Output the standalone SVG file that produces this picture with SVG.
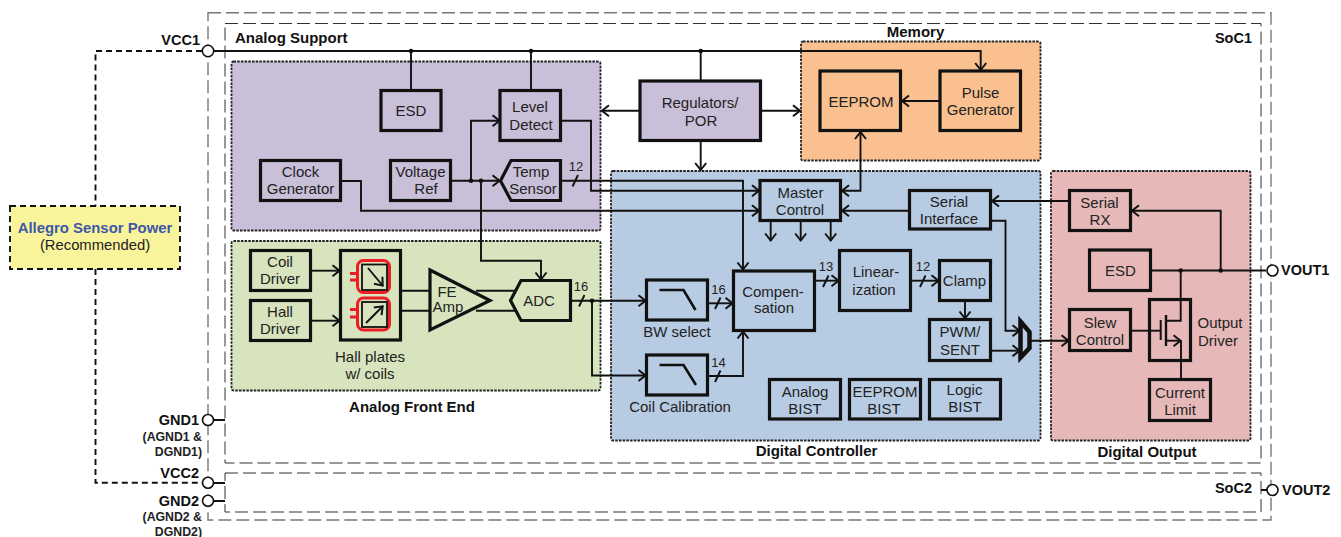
<svg xmlns="http://www.w3.org/2000/svg" width="1341" height="537" viewBox="0 0 1341 537">
<style>
text{font-family:"Liberation Sans",Arial,sans-serif;font-size:15px;fill:#222;text-anchor:middle}
.b{font-weight:bold;font-size:15px;fill:#111}
.t{font-weight:bold;font-size:14.500px;fill:#111}
.s{font-weight:bold;font-size:12.300px;text-anchor:end;fill:#222}
.e{text-anchor:end}.l{text-anchor:start}
.n{font-size:13px}
.bd{fill:none;stroke:#333;stroke-width:1;stroke-dasharray:13 5}
.bo{fill:none;stroke:#777;stroke-width:1.4;stroke-dasharray:13 5}
.p{stroke:#222;stroke-width:1.8;stroke-dasharray:2.5 1.2}
.x{stroke:#111;stroke-width:3.2;stroke-linejoin:miter}
.c{fill:none;stroke:#111;stroke-width:1.9;stroke-linejoin:miter}
.a{marker-end:url(#h)}
.k{marker-start:url(#hs)}
.d{fill:none;stroke:#111;stroke-width:1.9;stroke-dasharray:6 4}
.pin{fill:#fff;stroke:#111;stroke-width:1.6}
.dot{fill:#111;stroke:none}
.pu{fill:#c9bfd9}.gr{fill:#d7e4bd}.or{fill:#fac090}.bl{fill:#b7cbe3}.re{fill:#e6b9b8}
.rp{fill:none;stroke:#ee1c25;stroke-width:3}
</style>
<defs>
<marker id="h" markerUnits="userSpaceOnUse" markerWidth="12" markerHeight="14" refX="9.500" refY="6" orient="auto" overflow="visible"><path d="M2,0.500 L9,6 L2,11.500" fill="none" stroke="#111" stroke-width="2"/></marker>
<marker id="hs" markerUnits="userSpaceOnUse" markerWidth="12" markerHeight="14" refX="0.500" refY="6" orient="auto" overflow="visible"><path d="M8,0.500 L1,6 L8,11.500" fill="none" stroke="#111" stroke-width="2"/></marker>
</defs>
<rect width="1341" height="537" fill="#fff"/>

<g id="boundaries">
<rect class="bo" x="208" y="12.700" width="1063" height="507.300"/>
<rect class="bd" x="225" y="23.500" width="1036" height="439.500"/>
<rect class="bd" x="225" y="473" width="1036" height="39"/>
</g>

<g id="panels">
<rect id="panel-analog-support" class="p pu" x="231.500" y="61.500" width="369" height="169" rx="2"/>
<rect id="panel-afe" class="p gr" x="231.500" y="241" width="369" height="149.500" rx="2"/>
<rect id="panel-memory" class="p or" x="801" y="41.500" width="239.500" height="119" rx="2"/>
<rect id="panel-digital-controller" class="p bl" x="611" y="171" width="429.500" height="269.500" rx="2"/>
<rect id="panel-digital-output" class="p re" x="1051" y="171" width="199.500" height="269.500" rx="2"/>
</g>

<g id="connectors">
<path class="d" d="M202,51H95.500V206"/>
<path class="d" d="M95.500,269V482.700H202"/>
<path class="c" d="M214,420H225M214,483H225M214,501H225M1261,490H1267"/>
<path class="c a" d="M214,51H980.700V70.500"/>
<path class="c" d="M411,51V90M531,51V90M700.700,51V81"/>
<path class="c a" d="M640,110.700H601.500"/>
<path class="c a" d="M761,110.700H800.500"/>
<path class="c a" d="M700.700,140.700V170.500"/>
<path class="c a" d="M940,101H901.500"/>
<path class="c a k" d="M860.500,131.500V190.700H841.500"/>
<path class="c a" d="M561,120.700H591V190.700H759.500"/>
<path class="c a" d="M561,180.700H743V270"/>
<path class="c a" d="M341,181H361V210.700H759.500"/>
<path class="c a" d="M909,210.700H841.500"/>
<path class="c a" d="M1069,201H991.500"/>
<path class="c a" d="M991,220.700H1005.500V330.700H1020"/>
<path class="c a" d="M770.700,221V241"/>
<path class="c a" d="M800.700,221V241"/>
<path class="c a" d="M830.700,221V241"/>
<path class="c" d="M1151,270.500H1266"/>
<path class="c a" d="M1220.700,270.500V210.700H1131.500"/>
<path class="c" d="M1180.700,270.500V320.700H1166"/>
<path class="c" d="M1131,330.700H1160.700"/>
<path class="c a" d="M1166,340.700H1181"/>
<path class="c" d="M1181,340.700V379"/>
<path class="c a" d="M1031,340.700H1069"/>
<path class="c a" d="M991,350.700H1020"/>
<path class="c a" d="M965,301V319"/>
<path class="c a" d="M911,280.700H939"/>
<path class="c a" d="M815,280.700H839"/>
<path class="c a" d="M707,303.300H733"/>
<path class="c a" d="M571,300.700H646"/>
<path class="c a" d="M592,300.700V375.500H646"/>
<path class="c a" d="M707,376H743V331"/>
<path class="c a" d="M451,180.700H500"/>
<path class="c a" d="M471,180.700V120.700H500"/>
<path class="c a" d="M481,180.700V260.700H541V280"/>
<path class="c a" d="M311,270.700H340"/>
<path class="c a" d="M311,320.700H340"/>
<path class="c" d="M401,290.700H430M401,310.700H430M476,290.700H516M476,310.700H516"/>
<path class="c" d="M572.500,186.500L578,175M579,306.500L584.500,295M715,309L720.500,297.500M715,382L720.500,370.500M823,287L828.500,275.500M920,287L925.500,275.500"/>
<circle class="dot" cx="411" cy="51" r="2.300"/><circle class="dot" cx="531" cy="51" r="2.300"/><circle class="dot" cx="700.700" cy="51" r="2.300"/>
<circle class="dot" cx="471" cy="180.700" r="2.300"/><circle class="dot" cx="481" cy="180.700" r="2.300"/><circle class="dot" cx="592" cy="300.700" r="2.300"/>
<circle class="dot" cx="1180.700" cy="270.500" r="2.300"/><circle class="dot" cx="1220.700" cy="270.500" r="2.300"/>
</g>

<g id="yellow-power"><rect x="10" y="206" width="170" height="63" fill="#f8f49b" stroke="#111" stroke-width="1.900" stroke-dasharray="6 4"/>
<text x="95" y="233" style="font-weight:bold;font-size:14.900px;fill:#3f57a6">Allegro Sensor Power</text><text x="95" y="250" style="font-size:14.800px">(Recommended)</text></g>

<g id="esd1"><rect class="x pu" x="381" y="90.500" width="60" height="40"/><text x="411" y="116">ESD</text></g>
<g id="clock"><rect class="x pu" x="260.500" y="160.500" width="80" height="40"/><text x="300.500" y="177">Clock</text><text x="300.500" y="194">Generator</text></g>
<g id="vref"><rect class="x pu" x="390.500" y="160.500" width="60" height="40"/><text x="420.500" y="177">Voltage</text><text x="426" y="194">Ref</text></g>
<g id="level"><rect class="x pu" x="500" y="90.500" width="60.500" height="50"/><text x="530" y="112">Level</text><text x="531" y="130">Detect</text></g>
<g id="temp"><polygon class="x pu" points="500.500,180.700 511,160.500 560.500,160.500 560.500,200.500 511,200.500"/><text x="531" y="177">Temp</text><text x="533" y="194">Sensor</text></g>
<g id="regulators"><rect class="x pu" x="640" y="81" width="120.500" height="59.500"/><text x="700" y="108">Regulators/</text><text x="701" y="126">POR</text></g>
<g id="eeprom"><rect class="x or" x="820" y="71" width="80.500" height="59.500"/><text x="861" y="107">EEPROM</text></g>
<g id="pulse"><rect class="x or" x="940" y="71" width="80.500" height="59.500"/><text x="980.500" y="98">Pulse</text><text x="980.500" y="115">Generator</text></g>
<g id="master"><rect class="x bl" x="760" y="180.500" width="80.500" height="40"/><text x="800.500" y="198">Master</text><text x="800" y="215">Control</text></g>
<g id="serial-if"><rect class="x bl" x="909.500" y="190.500" width="81" height="38.500"/><text x="949" y="207">Serial</text><text x="949" y="224">Interface</text></g>

<g id="coil-driver"><rect class="x gr" x="250.500" y="250.500" width="60" height="40"/><text x="280" y="267">Coil</text><text x="280" y="284">Driver</text></g>
<g id="hall-driver"><rect class="x gr" x="250.500" y="300.500" width="60" height="40"/><text x="280" y="317">Hall</text><text x="280" y="334">Driver</text></g>
<g id="hall-plates"><rect class="x gr" x="340.500" y="250.500" width="60" height="89.500"/>
<rect class="rp" x="357.500" y="260.500" width="32" height="32" rx="6"/><rect class="rp" x="357.500" y="298" width="32" height="32" rx="6"/>
<path class="rp" d="M350,273.500H358M350,280H358M350,309.500H358M350,317H358"/>
<rect x="362" y="264.500" width="25" height="25.500" fill="#d7e4bd" stroke="#111" stroke-width="1.800"/><rect x="362" y="302" width="25" height="25" fill="#d7e4bd" stroke="#111" stroke-width="1.800"/>
<path class="c a" d="M368,268L383,286"/><path class="c a" d="M366,323L383,306"/>
<text x="370" y="362">Hall plates</text><text x="370" y="379">w/ coils</text></g>
<g id="fe-amp"><polygon class="x gr" points="430,270 490,300.500 430,330"/><text x="447" y="297">FE</text><text x="448" y="312">Amp</text></g>
<g id="adc"><polygon class="x gr" points="510.500,300.500 521,280.500 570.500,280.500 570.500,320.500 521,320.500"/><text x="539" y="306">ADC</text></g>

<g id="bw"><rect class="x bl" x="646.500" y="280" width="61" height="40"/><path d="M659.500,290H683.500L695.500,310" fill="none" stroke="#111" stroke-width="2.600"/><text x="677" y="337">BW select</text></g>
<g id="coilcal"><rect class="x bl" x="646.500" y="355" width="61" height="40"/><path d="M659.500,365H683.500L696,385" fill="none" stroke="#111" stroke-width="2.600"/><text x="680" y="412">Coil Calibration</text></g>
<g id="comp"><rect class="x bl" x="733.500" y="271" width="81" height="59.500"/><text x="773" y="297">Compen-</text><text x="774" y="313">sation</text></g>
<g id="linear"><rect class="x bl" x="839.500" y="250.500" width="71" height="60"/><text x="876" y="277">Linear-</text><text x="874" y="295">ization</text></g>
<g id="clamp"><rect class="x bl" x="939.500" y="260.500" width="51" height="40"/><text x="964.500" y="286">Clamp</text></g>
<g id="pwm"><rect class="x bl" x="929.500" y="319.500" width="61" height="41"/><text x="960" y="337">PWM/</text><text x="960" y="355">SENT</text></g>
<g id="mux"><polygon class="bl" style="stroke:#111;stroke-width:4.500" points="1020.500,321.500 1029.500,332 1029.500,348 1020.500,357.500"/></g>
<g id="analog-bist"><rect class="x bl" x="769.500" y="379.500" width="71" height="39.500"/><text x="805" y="397">Analog</text><text x="805" y="414">BIST</text></g>
<g id="eeprom-bist"><rect class="x bl" x="849.500" y="379.500" width="71" height="39.500"/><text x="885" y="397">EEPROM</text><text x="884" y="414">BIST</text></g>
<g id="logic-bist"><rect class="x bl" x="929.500" y="379.500" width="71" height="39.500"/><text x="964.500" y="395">Logic</text><text x="965" y="412">BIST</text></g>

<g id="serial-rx"><rect class="x re" x="1069.500" y="190.500" width="61" height="40"/><text x="1099.500" y="208">Serial</text><text x="1100" y="225">RX</text></g>
<g id="esd2"><rect class="x re" x="1089.500" y="250" width="61" height="40.500"/><text x="1120.500" y="276">ESD</text></g>
<g id="slew"><rect class="x re" x="1069.500" y="309.500" width="61" height="41"/><text x="1100" y="328">Slew</text><text x="1100" y="345">Control</text></g>
<g id="driver"><rect x="1149.500" y="299.500" width="41" height="61" fill="none" stroke="#111" stroke-width="3.200"/>
<path class="c" d="M1160.700,320V340" style="stroke-width:2"/><path class="c" d="M1166,315V346" style="stroke-width:2.400"/>
<text x="1220" y="328">Output</text><text x="1218" y="346">Driver</text></g>
<g id="current"><rect class="x re" x="1149.500" y="379.500" width="61" height="41"/><text x="1180" y="398">Current</text><text x="1180" y="415">Limit</text></g>

<g id="pins">
<circle class="pin" cx="208" cy="51" r="5.700"/><circle class="pin" cx="208" cy="420" r="5.500"/><circle class="pin" cx="208" cy="482.700" r="5.500"/><circle class="pin" cx="208" cy="500.700" r="5.500"/><circle class="pin" cx="1272.500" cy="270.500" r="5.500"/><circle class="pin" cx="1272.500" cy="490" r="5.500"/>
</g>

<g id="labels">
<text class="b l" x="235" y="43">Analog Support</text>
<text class="t e" x="1252" y="43">SoC1</text>
<text class="t e" x="1252" y="493">SoC2</text>
<text class="b" x="915.500" y="37">Memory</text>
<text class="b" x="412" y="412">Analog Front End</text>
<text class="b" x="816.500" y="456">Digital Controller</text>
<text class="b" x="1147" y="457">Digital Output</text>
<text class="t e" x="200" y="45">VCC1</text>
<text class="t e" x="199" y="425">GND1</text>
<text class="s" x="202" y="441">(AGND1 &amp;</text>
<text class="s" x="202" y="456">DGND1)</text>
<text class="t e" x="199" y="478">VCC2</text>
<text class="t e" x="199" y="506">GND2</text>
<text class="s" x="202" y="521">(AGND2 &amp;</text>
<text class="s" x="202" y="536">DGND2)</text>
<text class="t l" x="1281" y="275">VOUT1</text>
<text class="t l" x="1282" y="495">VOUT2</text>
<text class="n" x="576" y="171">12</text>
<text class="n" x="581" y="291">16</text>
<text class="n" x="718.500" y="294">16</text>
<text class="n" x="718.500" y="367">14</text>
<text class="n" x="826" y="271">13</text>
<text class="n" x="923" y="271">12</text>
</g>
</svg>
